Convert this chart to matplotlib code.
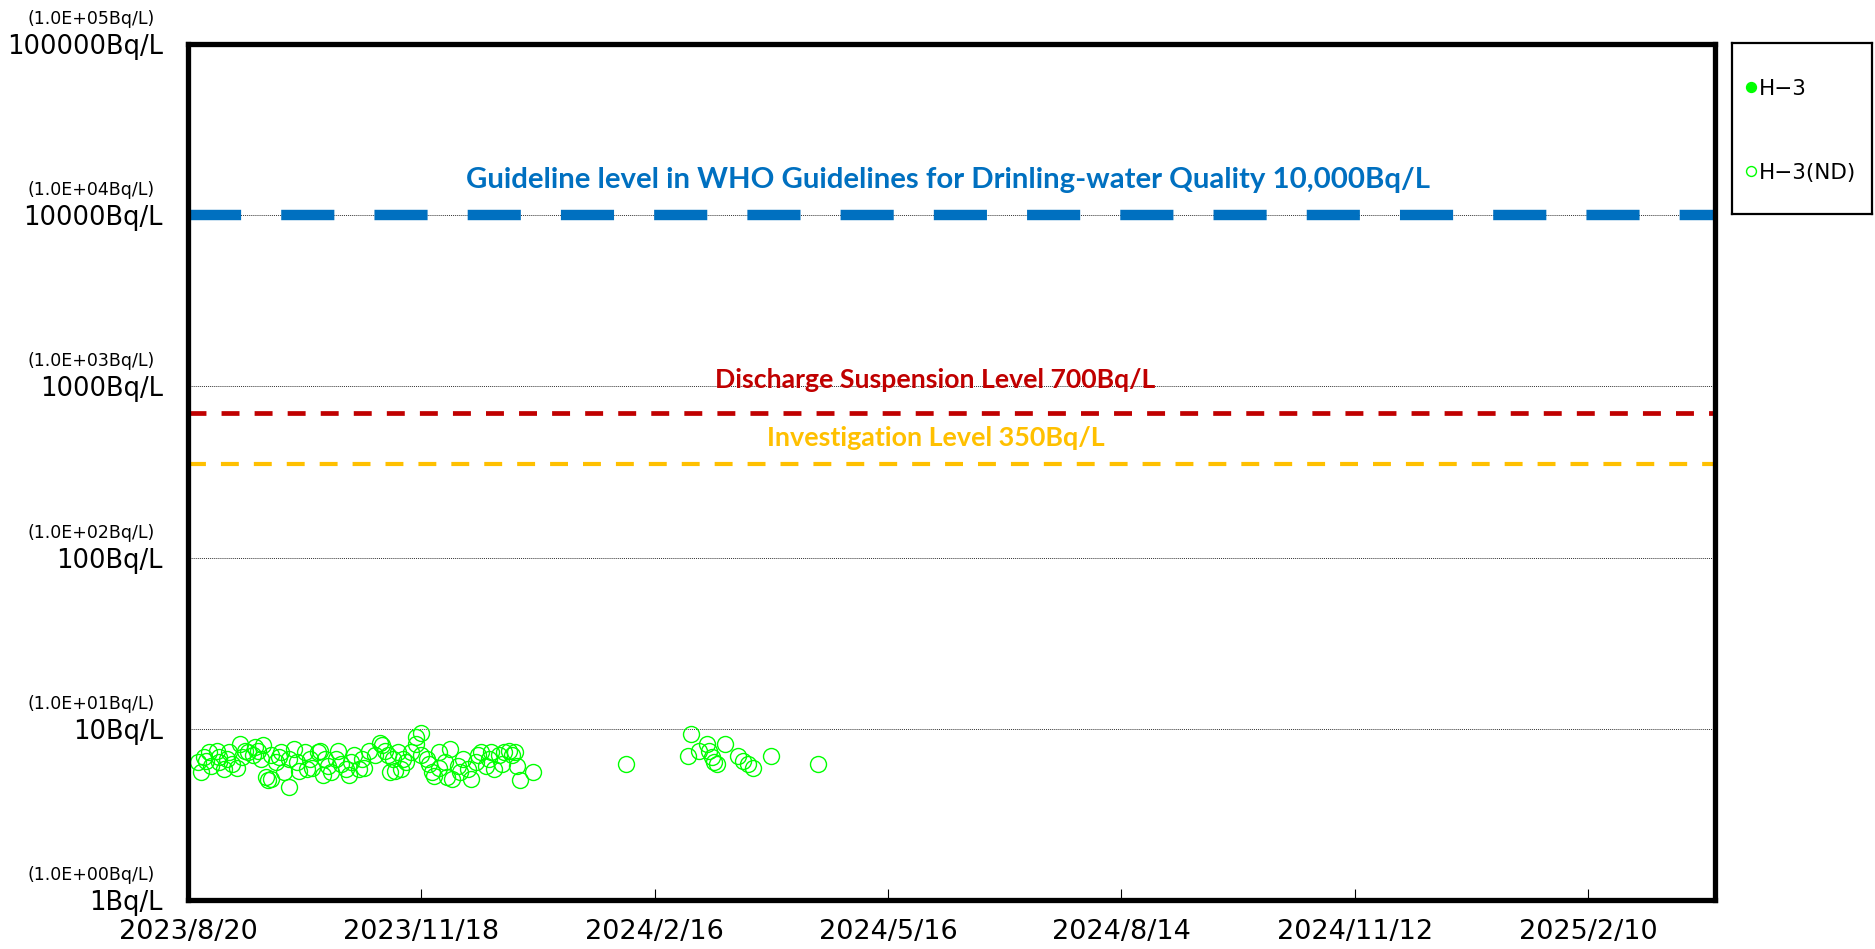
import matplotlib
matplotlib.use('Agg')
import matplotlib.pyplot as plt
import pandas as pd

# H-3 detected values (none in this period)
h3_dates = []
h3_values = []

# H-3 below detection limit (ND), plotted at the detection limit
nd_dates = [
    '2023/8/24', '2023/8/25', '2023/8/26', '2023/8/27', '2023/8/28', '2023/8/29', '2023/8/31',
    '2023/9/1', '2023/9/1', '2023/9/3', '2023/9/4', '2023/9/5', '2023/9/6', '2023/9/8', '2023/9/9',
    '2023/9/10', '2023/9/11', '2023/9/12', '2023/9/14', '2023/9/15', '2023/9/16', '2023/9/17',
    '2023/9/18', '2023/9/19', '2023/9/20', '2023/9/21', '2023/9/21', '2023/9/23', '2023/9/24',
    '2023/9/25', '2023/9/26', '2023/9/28', '2023/9/28', '2023/9/30',
    '2023/10/1', '2023/10/2', '2023/10/4', '2023/10/5', '2023/10/6', '2023/10/7', '2023/10/9',
    '2023/10/10', '2023/10/11', '2023/10/12', '2023/10/13', '2023/10/14', '2023/10/16', '2023/10/17',
    '2023/10/18', '2023/10/20', '2023/10/21', '2023/10/22', '2023/10/23', '2023/10/25', '2023/10/26',
    '2023/10/27', '2023/10/29', '2023/10/31',
    '2023/11/2', '2023/11/3', '2023/11/4', '2023/11/5', '2023/11/6', '2023/11/7', '2023/11/8',
    '2023/11/9', '2023/11/10', '2023/11/11', '2023/11/12', '2023/11/14', '2023/11/16', '2023/11/16',
    '2023/11/18', '2023/11/18', '2023/11/20', '2023/11/21', '2023/11/22', '2023/11/23', '2023/11/25',
    '2023/11/25', '2023/11/27', '2023/11/28', '2023/11/29', '2023/11/30',
    '2023/12/2', '2023/12/3', '2023/12/4', '2023/12/6', '2023/12/7', '2023/12/9', '2023/12/10',
    '2023/12/11', '2023/12/13', '2023/12/14', '2023/12/15', '2023/12/16', '2023/12/18', '2023/12/19',
    '2023/12/20', '2023/12/22', '2023/12/23', '2023/12/24', '2023/12/25', '2023/12/26', '2023/12/31',
    '2024/2/5', '2024/2/29', '2024/3/1', '2024/3/4', '2024/3/7', '2024/3/8', '2024/3/9', '2024/3/10',
    '2024/3/11', '2024/3/14', '2024/3/19', '2024/3/21', '2024/3/23', '2024/3/25', '2024/4/1', '2024/4/19',
]
nd_values = [
    6.4, 5.6, 6.8, 6.5, 7.3, 6.1, 7.4,
    6.4, 6.8, 5.8, 6.7, 7.3, 6.2, 5.9, 8.1, 6.8, 7.4,
    7.3, 7.0, 7.8, 7.4, 6.7, 8.0, 5.2, 5.0, 5.1, 7.0,
    6.4, 6.8, 7.3, 5.6, 4.6, 6.7, 7.6,
    6.4, 5.7, 7.3, 5.8, 6.7, 5.9, 7.3, 7.4, 5.4, 6.7, 6.1, 5.6,
    6.7, 7.4, 6.2, 5.8, 5.4, 6.4, 7.0, 5.8, 6.7, 5.9, 7.4, 7.0,
    8.3, 8.0, 7.4, 7.0, 5.6, 6.7, 5.7, 7.3, 5.8, 6.7, 6.4,
    7.3, 8.9, 8.1, 9.5, 7.0, 6.7, 6.2, 5.6, 5.3,
    7.3, 5.9, 6.4, 5.2, 7.6, 5.1,
    6.1, 5.6, 6.7, 5.8, 5.1, 6.4, 7.0, 7.3, 6.1, 6.7, 7.3,
    5.8, 7.0, 6.2, 7.3, 7.4, 7.0, 7.3, 6.1, 5.0, 5.6,
    6.2, 6.9, 9.3, 7.4, 8.2, 7.4, 6.8, 6.4, 6.2, 8.1, 6.9, 6.5, 6.2, 5.9, 6.9, 6.2,
]

x_ticks = ['2023/8/20', '2023/11/18', '2024/2/16', '2024/5/16', '2024/8/14', '2024/11/12', '2025/2/10']
x_range = ['2023/8/20', '2025/3/31']

y_ticks = [1, 10, 100, 1000, 10000, 100000]
y_labels = ['1Bq/L', '10Bq/L', '100Bq/L', '1000Bq/L', '10000Bq/L', '100000Bq/L']
y_sublabels = ['(1.0E+00Bq/L)', '(1.0E+01Bq/L)', '(1.0E+02Bq/L)',
               '(1.0E+03Bq/L)', '(1.0E+04Bq/L)', '(1.0E+05Bq/L)']

who_level = 10000
discharge_level = 700
investigation_level = 350

GREEN = '#00ff00'
BLUE = '#0070c0'
RED = '#c00000'
YELLOW = '#ffc000'

plt.rcParams['font.family'] = ['DejaVu Sans']

def to_dates(values):
    return pd.to_datetime(pd.Series(values, dtype=object), format='%Y/%m/%d')

fig = plt.figure(figsize=(18.75, 9.49), dpi=100)
ax = fig.add_axes([188 / 1875, 1 - 900 / 949, 1527 / 1875, 856 / 949])

ax.set_yscale('log')
ax.set_ylim(1, 100000)
xr = to_dates(x_range)
ax.set_xlim(xr.iloc[0], xr.iloc[1])

# decade gridlines
for v in y_ticks[1:-1]:
    ax.axhline(v, color='#333333', lw=0.7, ls=(0, (1, 1)), zorder=1)

# reference levels
ax.axhline(who_level, color=BLUE, lw=7.5, ls=(0, (5.1, 3.85)), dash_capstyle='butt', zorder=2)
ax.axhline(discharge_level, color=RED, lw=3.4, ls=(0, (3.8, 3.2)), dash_capstyle='butt', zorder=2)
ax.axhline(investigation_level, color=YELLOW, lw=3.0, ls=(0, (4.3, 3.6)), dash_capstyle='butt', zorder=2)

label_font = ['Lato', 'DejaVu Sans']
ax.annotate('Guideline level in WHO Guidelines for Drinling-water Quality 10,000Bq/L',
            xy=(0.498, who_level), xycoords=('axes fraction', 'data'),
            xytext=(0, 35), textcoords='offset pixels', ha='center', va='center',
            color=BLUE, fontsize=21.2, fontweight='bold', family=label_font)
ax.annotate('Discharge Suspension Level 700Bq/L',
            xy=(0.489, discharge_level), xycoords=('axes fraction', 'data'),
            xytext=(0, 33), textcoords='offset pixels', ha='center', va='center',
            color=RED, fontsize=19.2, fontweight='bold', family=label_font)
ax.annotate('Investigation Level 350Bq/L',
            xy=(0.490, investigation_level), xycoords=('axes fraction', 'data'),
            xytext=(0, 26), textcoords='offset pixels', ha='center', va='center',
            color=YELLOW, fontsize=19.4, fontweight='bold', family=label_font)

# data
ax.plot(to_dates(h3_dates) if h3_dates else [], h3_values, ls='none', marker='o', ms=11.5,
        mfc=GREEN, mec=GREEN, label='H\u22123', zorder=3)
ax.plot(to_dates(nd_dates), nd_values, ls='none', marker='o', ms=11.5, mew=1.0,
        mfc='none', mec=GREEN, label='H\u22123(ND)', zorder=3)

# axes frame
for side in ['left', 'right', 'top', 'bottom']:
    ax.spines[side].set_linewidth(3.8)
    ax.spines[side].set_zorder(5)

xt = to_dates(x_ticks)
ax.set_xticks(xt)
ax.set_xticklabels(x_ticks, fontsize=19.5)
ax.tick_params(axis='x', direction='in', length=8, width=0.8, pad=14)
ax.minorticks_off()

ax.set_yticks(y_ticks)
ax.set_yticklabels(y_labels, fontsize=18.5)
ax.tick_params(axis='y', length=0, pad=18)
for v, s in zip(y_ticks, y_sublabels):
    ax.annotate(s, xy=(0, v), xycoords=('axes fraction', 'data'),
                xytext=(-33, 25), textcoords='offset pixels', ha='right', va='center',
                fontsize=12.5)

# legend in its own box
lax = fig.add_axes([1732 / 1875, 1 - 214 / 949, 140 / 1875, 171 / 949])
lax.set_xticks([])
lax.set_yticks([])
for side in lax.spines.values():
    side.set_linewidth(1.6)
handles, labels = ax.get_legend_handles_labels()
lax.legend(handles, labels, loc='upper left', bbox_to_anchor=(-0.165, 1.0), frameon=False,
           fontsize=15.5, markerscale=0.62, handlelength=0.6, handletextpad=0.05,
           borderpad=1.65, borderaxespad=0, labelspacing=2.98)

fig.savefig('out.png', dpi=100)
